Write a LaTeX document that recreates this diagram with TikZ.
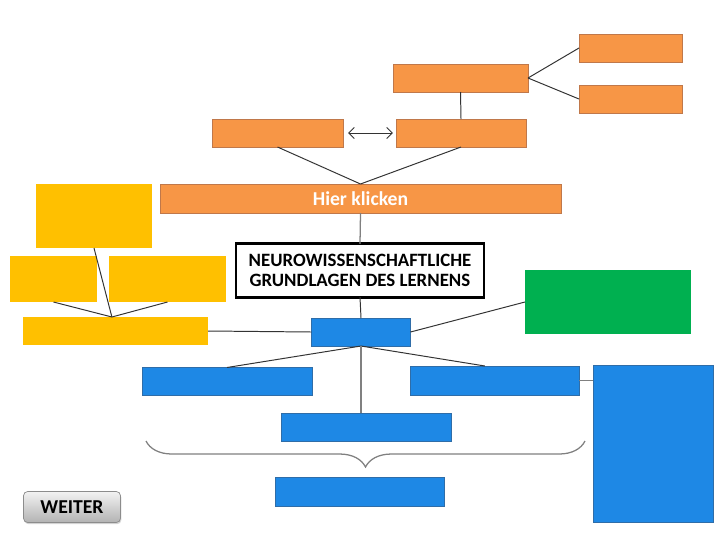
\documentclass[tikz,border=0pt]{standalone}
\usepackage{fontspec}
\setmainfont{Carlito}
\usepackage{xcolor}
\definecolor{mporange}{HTML}{F79646}
\definecolor{mporangeline}{HTML}{C0784A}
\definecolor{mpyellow}{HTML}{FFC000}
\definecolor{mpgreen}{HTML}{00B050}
\definecolor{mpblue}{HTML}{1E88E5}
\definecolor{mpblueline}{HTML}{2F6DA8}
\usetikzlibrary{arrows.meta,positioning,calc,shadows,decorations.pathreplacing}

\begin{document}
\begin{tikzpicture}[x=0.025cm, y=-0.025cm,
      box/.style={inner sep=0pt, outer sep=0pt},
      orangebox/.style={box, fill=mporange, draw=mporangeline, line width=0.5pt, minimum height=0.7cm},
      yellowbox/.style={box, fill=mpyellow},
      bluebox/.style={box, fill=mpblue, draw=mpblueline, line width=0.5pt, minimum height=0.7cm},
      conn/.style={draw=black!80, line width=0.7pt},
      gconn/.style={draw=black!50, line width=0.9pt}
    ]
    \useasboundingbox (0,0) rectangle (720,540);
    % orange branch
    \node[orangebox, minimum width=2.575cm] (otopa) at (630.5,48) {};
    \node[orangebox, minimum width=2.575cm] (otopb) at (630.5,99) {};
    \node[orangebox, minimum width=3.375cm] (omid) at (460.5,78) {};
    \node[orangebox, minimum width=3.275cm] (oleft) at (277.5,133) {};
    \node[orangebox, minimum width=3.25cm] (oright) at (461,133) {};
    \node[orangebox, minimum width=10.025cm, minimum height=0.725cm, text=white,
          font=\fontsize{14}{14}\selectfont\bfseries] (klick) at (360.5,198.5) {Hier klicken};
    % center
    \node[box, draw=black, line width=2pt, fill=white, minimum width=6.2cm, minimum height=1.33cm,
          align=center, font=\fontsize{13.4}{14}\selectfont\bfseries] (thema) at (360,270.5)
          {NEUROWISSENSCHAFTLICHE\\GRUNDLAGEN DES LERNENS};
    % yellow branch
    \node[yellowbox, minimum width=2.9cm, minimum height=1.6cm] (ytop) at (94,216) {};
    \node[yellowbox, minimum width=2.175cm, minimum height=1.15cm] (ymidl) at (53.5,279) {};
    \node[yellowbox, minimum width=2.925cm, minimum height=1.15cm] (ymidr) at (167.5,279) {};
    \node[yellowbox, minimum width=4.625cm, minimum height=0.7cm] (ybase) at (115.5,331) {};
    \coordinate (yjoin) at ([xshift=-0.09cm]ybase.north);
    % blue branch
    \node[bluebox, minimum width=2.475cm] (bhub) at (361,332) {};
    \node[box, fill=mpgreen, minimum width=4.15cm, minimum height=1.6cm] (gruen) at (608,302) {};
    \node[bluebox, minimum width=4.25cm] (bleft) at (227,381.5) {};
    \node[bluebox, minimum width=4.225cm, minimum height=0.725cm] (bright) at (494.5,380.5) {};
    \node[bluebox, minimum width=3cm, minimum height=3.925cm] (bside) at (653.3,444) {};
    \node[bluebox, minimum width=4.25cm] (bmid) at (366,427.3) {};
    \node[bluebox, minimum width=4.225cm, minimum height=0.725cm] (bunten) at (359.7,491.7) {};
    % button
    \node[box, rounded corners=3pt, draw=black!45, line width=0.5pt, top color=black!5, bottom color=black!30,
          drop shadow={shadow xshift=0.6pt, shadow yshift=-1.2pt, opacity=0.35},
          minimum width=2.425cm, minimum height=0.775cm,
          font=\fontsize{14}{14}\selectfont\bfseries] (weiter) at (72,507) {WEITER};
    % connectors
    \draw[conn] (omid.east) -- (otopa.west);
    \draw[conn] (omid.east) -- (otopb.west);
    \draw[conn] (omid.south) -- (oright.north);
    \draw[conn, {Straight Barb[length=4pt,width=8pt]}-{Straight Barb[length=4pt,width=8pt]},
          shorten <=0.125cm, shorten >=0.075cm] (oleft.east) -- (oright.west);
    \draw[conn] (oleft.south) -- (klick.north);
    \draw[conn] (oright.south) -- (klick.north);
    \draw[gconn] (klick.south) -- (thema.north);
    \draw[conn] (thema.south) -- (bhub.north);
    \draw[conn] (ytop.south) -- (yjoin);
    \draw[conn] (ymidl.south) -- (yjoin);
    \draw[conn] (ymidr.south) -- (yjoin);
    \draw[conn] (ybase.east) -- (bhub.west);
    \draw[conn] (bhub.east) -- (gruen.west);
    \draw[conn] (bhub.south) -- (bleft.north);
    \draw[conn] (bhub.south) -- ([xshift=-0.24cm]bright.north);
    \draw[gconn] (bhub.south) -- (bhub.south |- bmid.north);
    \draw[gconn] (bright.east) -- (bright.east -| bside.west);
    % brace
    \coordinate (braceR) at (585,441);
    \coordinate (braceL) at (146,441);
    \draw[gconn, decorate, decoration={brace, amplitude=0.65cm}] (braceR) -- (braceL);
  \end{tikzpicture}
\end{document}
